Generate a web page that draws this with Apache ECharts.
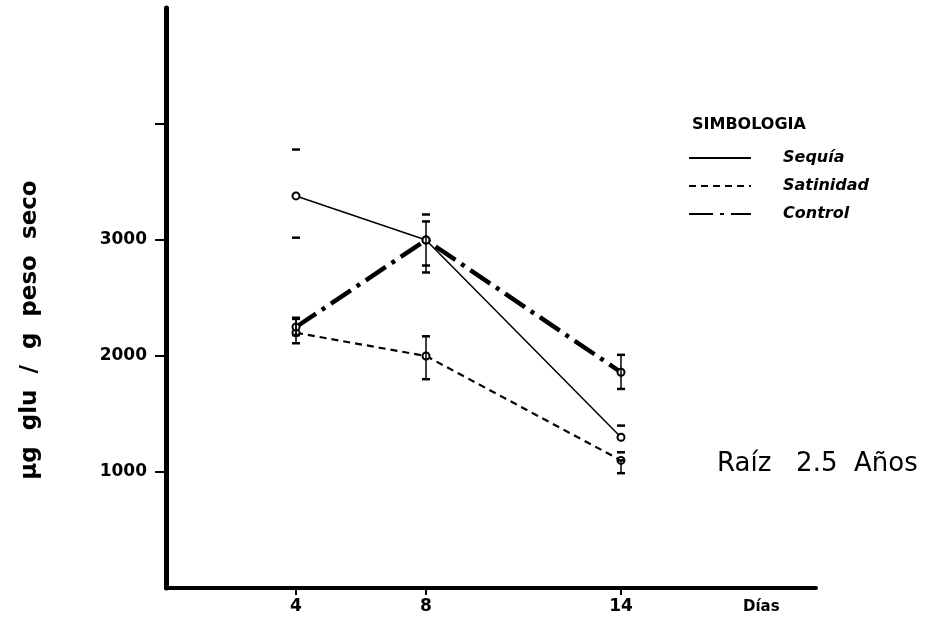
<!DOCTYPE html>
<html>
<head>
<meta charset="utf-8">
<script src="https://cdn.jsdelivr.net/npm/echarts@6/dist/echarts.min.js"></script>
<style>html,body{margin:0;padding:0;background:#fff}#c{width:936px;height:621px}</style>
</head>
<body>
<div id="c"></div>
<script>
// ---- data ----
const xTicks = [4, 8, 14];
const yTicks = [1000, 2000, 3000, 4000];
const yLabels = [1000, 2000, 3000];
const seriesNames = ['Sequía', 'Satinidad', 'Control'];
const sequia = [[4, 3380], [8, 3000], [14, 1300]];
const salinidad = [[4, 2200], [8, 2000], [14, 1100]];
const control = [[4, 2250], [8, 3000], [14, 1860]];
// error bars: [x, low, high]
const sequiaErr = [[4, 3020, 3780], [8, 2780, 3220], [14, 1170, 1400]];
const salinidadErr = [[4, 2110, 2330], [8, 1800, 2170], [14, 990, 1100]];
const controlErr = [[4, 2180, 2320], [8, 2720, 3160], [14, 1716, 2010]];
const yName = 'μg  glu  /  g  peso  seco';
const xName = 'Días';
const legendTitle = 'SIMBOLOGIA';
const caption = 'Raíz   2.5  Años';

const FONT = 'DejaVu Sans';
function errSeries(data, stems) {
  return {
    type: 'custom',
    silent: true,
    z: 5,
    data: data,
    encode: { x: 0, y: [1, 2] },
    renderItem: function (params, api) {
      const x = api.value(0);
      const lo = api.coord([x, api.value(1)]);
      const hi = api.coord([x, api.value(2)]);
      const w = 4;
      const st = { stroke: '#000', lineWidth: 2.5 };
      const children = [
        { type: 'line', shape: { x1: lo[0] - w, y1: lo[1], x2: lo[0] + w, y2: lo[1] }, style: st },
        { type: 'line', shape: { x1: hi[0] - w, y1: hi[1], x2: hi[0] + w, y2: hi[1] }, style: st }
      ];
      if (stems) {
        children.push({ type: 'line', shape: { x1: lo[0], y1: lo[1], x2: hi[0], y2: hi[1] }, style: { stroke: '#000', lineWidth: 1.5 } });
      }
      return { type: 'group', children: children };
    }
  };
}

const chart = echarts.init(document.getElementById('c'));
chart.setOption({
  backgroundColor: '#fff',
  animation: false,
  title: [
    { text: legendTitle, left: 687, top: 112, textStyle: { fontFamily: FONT, fontSize: 16, fontWeight: 'bold', color: '#000' } },
    { text: caption, left: 712, top: 446, textStyle: { fontFamily: FONT, fontSize: 26, fontWeight: 'normal', color: '#000' } }
  ],
  legend: {
    orient: 'vertical',
    left: 683,
    top: 145,
    itemWidth: 62,
    itemHeight: 14,
    itemGap: 12,
    data: seriesNames,
    itemStyle: { opacity: 0 },
    textStyle: { fontFamily: FONT, fontSize: 16, fontWeight: 'bold', fontStyle: 'italic', color: '#000', padding: [0, 0, 0, 27] }
  },
  grid: { left: 166, top: 8, width: 650, height: 580, containLabel: false },
  xAxis: {
    type: 'value', min: 0, max: 20,
    name: xName, nameLocation: 'end', nameGap: -73,
    nameTextStyle: { fontFamily: FONT, fontSize: 15, fontWeight: 'bold', color: '#000', verticalAlign: 'top', padding: [12, 0, 0, 0] },
    axisLine: { show: true, lineStyle: { color: '#000', width: 4 } },
    axisTick: { show: true, customValues: xTicks, length: 7, lineStyle: { color: '#000', width: 2 } },
    axisLabel: { customValues: xTicks, margin: 10, fontFamily: FONT, fontSize: 17, fontWeight: 'bold', color: '#000' },
    splitLine: { show: false }
  },
  yAxis: {
    type: 'value', min: 0, max: 5000,
    name: yName, nameLocation: 'middle', nameRotate: 90, nameGap: 124,
    nameTextStyle: { fontFamily: FONT, fontSize: 23, fontWeight: 'bold', color: '#000', padding: [0, 64, 0, 0] },
    axisLine: { show: true, lineStyle: { color: '#000', width: 5 } },
    axisTick: { show: true, customValues: yTicks, length: 11, lineStyle: { color: '#000', width: 2 } },
    axisLabel: { customValues: yLabels, margin: 19, fontFamily: FONT, fontSize: 17, fontWeight: 'bold', color: '#000',
      formatter: function (v) { return String(v); } },
    splitLine: { show: false }
  },
  series: [
    { name: seriesNames[0], type: 'line', data: sequia, symbol: 'emptyCircle', symbolSize: 7, z: 3,
      itemStyle: { color: '#000', borderWidth: 2 }, lineStyle: { color: '#000', width: 1.5, type: 'solid' } },
    { name: seriesNames[1], type: 'line', data: salinidad, symbol: 'emptyCircle', symbolSize: 7, z: 3,
      itemStyle: { color: '#000', borderWidth: 2 }, lineStyle: { color: '#000', width: 2.2, type: [7, 5] } },
    { name: seriesNames[2], type: 'line', data: control, symbol: 'emptyCircle', symbolSize: 7, z: 4,
      itemStyle: { color: '#000', borderWidth: 2 }, lineStyle: { color: '#000', width: 4.5, type: [24, 7, 4, 7] } },
    errSeries(sequiaErr, false),
    errSeries(salinidadErr, true),
    errSeries(controlErr, true)
  ]
});
</script>
</body>
</html>
